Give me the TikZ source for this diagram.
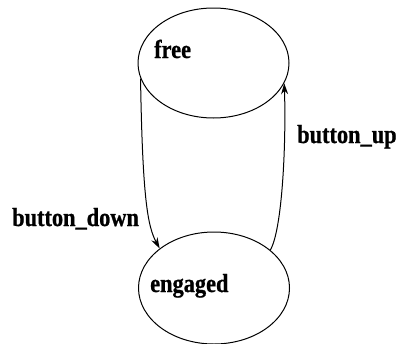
\documentclass[tikz,border=0pt]{standalone}
\usepackage{fontspec}
\usetikzlibrary{shapes.geometric,arrows.meta}
\newfontfamily\lblfont[FakeStretch=0.86,FakeBold=0.8]{Liberation Serif}
\begin{document}
\begin{tikzpicture}[x=1pt,y=-1pt,
  state/.style={draw,ellipse,line width=1pt,inner sep=0pt,minimum width=151pt,minimum height=110pt},
  lbl/.style={font=\lblfont\bfseries\fontsize{26}{26}\selectfont,inner sep=0pt,anchor=base west},
  edge/.style={line width=1pt,-{Stealth[length=11pt,width=7pt]}}]
\useasboundingbox (0,0) rectangle (401,343);
\node[state] (free) at (213.5,63) {};
\node[state,minimum height=112pt] (engaged) at (214,288) {};
\node[lbl] (tfree) at (154,58) {free};
\node[lbl] (teng) at (150,292) {engaged};
\node[lbl] (tdown) at (12,226) {button\_down};
\node[lbl] (tup) at (297,143) {button\_up};
\draw[edge] (free.192) .. controls +(2,120) and +(-12,-22) .. (engaged.144);
\draw[edge] (engaged.34) .. controls +(12,-20) and +(2,60) .. (free.-16);
\end{tikzpicture}
\end{document}
